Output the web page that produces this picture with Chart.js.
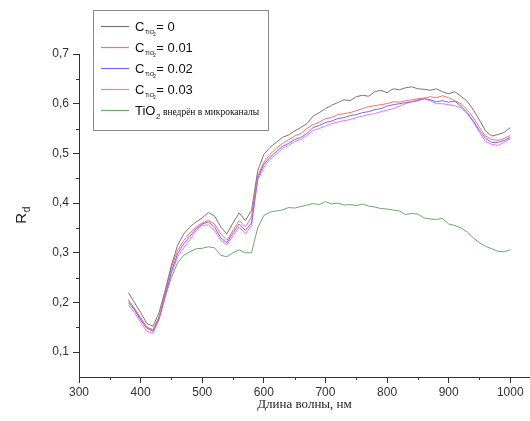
<!DOCTYPE html>
<html>
<head>
<meta charset="utf-8">
<script src="https://cdn.jsdelivr.net/npm/chart.js@4/dist/chart.umd.min.js"></script>
<style>
  body { margin: 0; background: #fff; }
</style>
</head>
<body>
<canvas id="chart" width="530" height="421"></canvas>
<script>
// длины волн, нм
const wavelengths = [380, 390, 400, 410, 420, 430, 440, 450, 460, 470, 480, 490, 500, 510, 520, 530, 540, 550, 560, 570,
  580, 590, 600, 610, 620, 630, 640, 650, 660, 670, 680, 690, 700, 710, 720, 730, 740, 750, 760, 770,
  780, 790, 800, 810, 820, 830, 840, 850, 860, 870, 880, 890, 900, 910, 920, 930, 940, 950, 960, 970,
  980, 990, 1000];

const rd0 = [0.220, 0.200, 0.180, 0.158, 0.152, 0.180, 0.225, 0.275, 0.315, 0.338, 0.352, 0.362, 0.370, 0.381, 0.374, 0.352, 0.338, 0.360, 0.380, 0.365,
  0.385, 0.465, 0.498, 0.512, 0.522, 0.532, 0.537, 0.545, 0.552, 0.560, 0.575, 0.582, 0.590, 0.597, 0.602, 0.608, 0.606, 0.614, 0.617, 0.615,
  0.624, 0.627, 0.622, 0.630, 0.628, 0.632, 0.634, 0.630, 0.629, 0.627, 0.630, 0.624, 0.620, 0.624, 0.615, 0.605, 0.588, 0.567, 0.545, 0.535,
  0.538, 0.542, 0.552];

const rd001 = [0.205, 0.188, 0.170, 0.150, 0.145, 0.172, 0.220, 0.270, 0.305, 0.325, 0.340, 0.352, 0.360, 0.365, 0.358, 0.338, 0.325, 0.345, 0.365, 0.352,
  0.372, 0.455, 0.482, 0.498, 0.510, 0.520, 0.527, 0.535, 0.540, 0.550, 0.558, 0.563, 0.570, 0.572, 0.578, 0.580, 0.582, 0.586, 0.590, 0.594,
  0.596, 0.598, 0.600, 0.604, 0.603, 0.606, 0.608, 0.610, 0.611, 0.614, 0.612, 0.616, 0.612, 0.606, 0.600, 0.588, 0.572, 0.552, 0.535, 0.528,
  0.526, 0.530, 0.536];

const rd002 = [0.200, 0.185, 0.165, 0.148, 0.142, 0.168, 0.215, 0.262, 0.298, 0.318, 0.333, 0.348, 0.358, 0.362, 0.352, 0.330, 0.320, 0.340, 0.358, 0.345,
  0.360, 0.450, 0.478, 0.492, 0.503, 0.514, 0.520, 0.528, 0.532, 0.540, 0.552, 0.556, 0.562, 0.565, 0.570, 0.572, 0.576, 0.578, 0.582, 0.584,
  0.588, 0.590, 0.595, 0.598, 0.600, 0.602, 0.604, 0.606, 0.610, 0.608, 0.604, 0.606, 0.603, 0.605, 0.595, 0.582, 0.565, 0.546, 0.530, 0.522,
  0.522, 0.526, 0.532];

const rd003 = [0.195, 0.180, 0.160, 0.142, 0.138, 0.165, 0.210, 0.258, 0.292, 0.310, 0.326, 0.345, 0.355, 0.356, 0.345, 0.325, 0.316, 0.334, 0.352, 0.338,
  0.355, 0.445, 0.472, 0.488, 0.498, 0.510, 0.516, 0.524, 0.528, 0.536, 0.546, 0.550, 0.555, 0.560, 0.563, 0.566, 0.568, 0.572, 0.575, 0.578,
  0.580, 0.584, 0.587, 0.590, 0.595, 0.600, 0.604, 0.608, 0.610, 0.606, 0.600, 0.600, 0.598, 0.596, 0.592, 0.580, 0.563, 0.542, 0.524, 0.518,
  0.516, 0.522, 0.530];

const rdChannels = [0.205, 0.188, 0.168, 0.150, 0.145, 0.170, 0.212, 0.250, 0.280, 0.295, 0.302, 0.308, 0.309, 0.312, 0.310, 0.295, 0.292, 0.300, 0.306, 0.300,
  0.300, 0.350, 0.375, 0.382, 0.384, 0.386, 0.391, 0.390, 0.393, 0.396, 0.399, 0.397, 0.403, 0.398, 0.400, 0.396, 0.397, 0.395, 0.398, 0.394,
  0.392, 0.389, 0.388, 0.386, 0.384, 0.377, 0.379, 0.378, 0.370, 0.368, 0.367, 0.369, 0.358, 0.355, 0.350, 0.342, 0.330, 0.320, 0.313, 0.308,
  0.303, 0.302, 0.306];

const seriesNames = ["C_TiO2 = 0", "C_TiO2 = 0.01", "C_TiO2 = 0.02", "C_TiO2 = 0.03", "TiO2 внедрён в микроканалы"];
const seriesColors = ["#777777", "#ff6b6b", "#6a6aff", "#f070f0", "#6aaa6a"];

// подписи легенды: основной текст, индекс, индекс индекса, остаток
const legendMain = ["C", "C", "C", "C", "TiO"];
const legendSub = ["TiO", "TiO", "TiO", "TiO", ""];
const legendSubSub = ["2", "2", "2", "2", "2"];
const legendRest = ["= 0", "= 0.01", "= 0.02", "= 0.03", "внедрён в микроканалы"];

const xTicks = [300, 400, 500, 600, 700, 800, 900, 1000];
const xMinor = [350, 450, 550, 650, 750, 850, 950];
const yTicks = [0.1, 0.2, 0.3, 0.4, 0.5, 0.6, 0.7];
const yMinor = [0.15, 0.25, 0.35, 0.45, 0.55, 0.65];

const axisColor = "#333333";

const allSeries = [rd0, rd001, rd002, rd003, rdChannels];

// малые деления, подпись оси Y и легенда
const extrasPlugin = {
  id: "extras",
  afterDraw(chart) {
    const ctx = chart.ctx;
    const xs = chart.scales.x;
    const ys = chart.scales.y;
    const area = chart.chartArea;

    ctx.save();
    ctx.strokeStyle = axisColor;
    ctx.lineWidth = 1;
    ctx.beginPath();
    xMinor.forEach(v => {
      const px = Math.round(xs.getPixelForValue(v)) + 0.5;
      ctx.moveTo(px, area.bottom);
      ctx.lineTo(px, area.bottom + 3);
    });
    yMinor.forEach(v => {
      const py = Math.round(ys.getPixelForValue(v)) + 0.5;
      ctx.moveTo(area.left - 3, py);
      ctx.lineTo(area.left, py);
    });
    ctx.stroke();

    // R_d
    ctx.save();
    ctx.translate(26, (area.top + area.bottom) / 2);
    ctx.rotate(-Math.PI / 2);
    ctx.fillStyle = "#222";
    ctx.textBaseline = "alphabetic";
    ctx.font = "15px 'Liberation Sans', Arial, sans-serif";
    const wR = ctx.measureText("R").width;
    ctx.font = "10px 'Liberation Sans', Arial, sans-serif";
    const wd = ctx.measureText("d").width;
    const start = -(wR + wd) / 2;
    ctx.font = "15px 'Liberation Sans', Arial, sans-serif";
    ctx.fillText("R", start, 0);
    ctx.font = "10px 'Liberation Sans', Arial, sans-serif";
    ctx.fillText("d", start + wR + 0.5, 4);
    ctx.restore();

    // легенда
    ctx.strokeStyle = "#8a8a8a";
    ctx.strokeRect(93.5, 10.5, 175, 120);
    chart.data.datasets.forEach((ds, i) => {
      const rowY = 26 + i * 21;
      ctx.strokeStyle = seriesColors[i];
      ctx.lineWidth = 1.2;
      ctx.beginPath();
      ctx.moveTo(101, rowY + 0.5);
      ctx.lineTo(129, rowY + 0.5);
      ctx.stroke();

      const base = rowY + 4.7;
      let x = 135;
      ctx.fillStyle = "#111";
      ctx.textBaseline = "alphabetic";
      ctx.font = "13px 'Liberation Sans', Arial, sans-serif";
      ctx.fillText(legendMain[i], x, base);
      x += ctx.measureText(legendMain[i]).width;
      if (legendSub[i]) {
        ctx.font = "6px 'Liberation Sans', Arial, sans-serif";
        ctx.fillText(legendSub[i], x + 0.5, base + 3);
        const wSub = ctx.measureText(legendSub[i]).width;
        ctx.font = "4.5px 'Liberation Sans', Arial, sans-serif";
        ctx.fillText(legendSubSub[i], x + wSub - 0.5, base + 5.5);
        x += wSub + 2.5;
        ctx.font = "13px 'Liberation Sans', Arial, sans-serif";
        ctx.fillText(legendRest[i], x, base);
      } else {
        ctx.font = "8px 'Liberation Sans', Arial, sans-serif";
        ctx.fillText(legendSubSub[i], x + 0.5, base + 4);
        x += ctx.measureText(legendSubSub[i]).width + 3;
        ctx.font = "9.5px 'Liberation Serif', 'Times New Roman', serif";
        ctx.fillText(legendRest[i], x, base);
      }
    });
    ctx.restore();
  }
};

const ctx = document.getElementById("chart").getContext("2d");

new Chart(ctx, {
  type: "line",
  data: {
    datasets: allSeries.map((s, i) => ({
      label: seriesNames[i],
      data: wavelengths.map((w, k) => ({ x: w, y: s[k] })),
      borderColor: seriesColors[i],
      borderWidth: 1,
      pointRadius: 0,
      tension: 0,
      fill: false,
    })),
  },
  options: {
    responsive: false,
    animation: false,
    layout: {
      padding: { top: 54, right: 0, left: 0, bottom: 0 },
    },
    plugins: {
      legend: { display: false },
      tooltip: { enabled: false },
    },
    scales: {
      x: {
        type: "linear",
        min: 300,
        max: 1032,
        afterBuildTicks: s => { s.ticks = xTicks.map(v => ({ value: v })); },
        afterFit: s => { s.height = 44; },
        border: { display: true, color: axisColor, width: 1 },
        grid: { drawOnChartArea: false, drawTicks: true, tickLength: 6, color: axisColor },
        ticks: {
          autoSkip: false,
          maxRotation: 0,
          padding: 2,
          color: "#333",
          font: { family: "'Liberation Sans', Arial, sans-serif", size: 12 },
          callback: v => String(v),
        },
        title: {
          display: true,
          text: "Длина волны, нм",
          color: "#222",
          padding: { top: 0, bottom: 9 },
          font: { family: "'Liberation Serif', 'Times New Roman', serif", size: 13 },
        },
      },
      y: {
        type: "linear",
        min: 0.05,
        max: 0.7,
        afterBuildTicks: s => { s.ticks = yTicks.map(v => ({ value: v })); },
        afterFit: s => { s.width = 79; },
        border: { display: true, color: axisColor, width: 1 },
        grid: { drawOnChartArea: false, drawTicks: true, tickLength: 6, color: axisColor },
        ticks: {
          autoSkip: false,
          padding: 4,
          color: "#333",
          font: { family: "'Liberation Sans', Arial, sans-serif", size: 12 },
          callback: v => v.toFixed(1).replace(".", ","),
        },
      },
    },
  },
  plugins: [extrasPlugin],
});
</script>
</body>
</html>
